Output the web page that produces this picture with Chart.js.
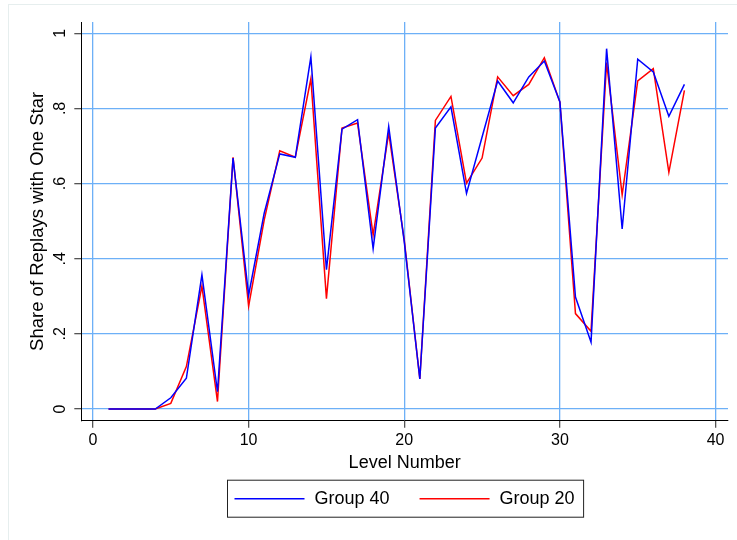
<!DOCTYPE html>
<html>
<head>
<meta charset="utf-8">
<script src="https://cdn.jsdelivr.net/npm/chart.js@4/dist/chart.umd.min.js"></script>
<style>
  html, body { margin: 0; padding: 0; background: #fff; }
  #wrap { position: relative; width: 737px; height: 540px; }
  #frame { position: absolute; left: 8px; top: 4px; right: -2px; bottom: -2px; border: 1px solid #e6eeee; }
  canvas { position: absolute; left: 0; top: 0; }
</style>
</head>
<body>
<div id="wrap">
  <div id="frame"></div>
  <canvas id="myChart" width="737" height="540"></canvas>
</div>
<script>
const levels = Array.from({ length: 38 }, (_, i) => i + 1);
const group40 = [0, 0, 0, 0, 0.030, 0.082, 0.357, 0.046, 0.668, 0.303,
  0.521, 0.679, 0.670, 0.937, 0.371, 0.745, 0.770, 0.427, 0.752, 0.445,
  0.080, 0.748, 0.804, 0.574, 0.724, 0.873, 0.815, 0.884, 0.926, 0.817,
  0.298, 0.178, 0.959, 0.479, 0.931, 0.897, 0.779, 0.864];
const group20 = [0, 0, 0, 0, 0.015, 0.113, 0.327, 0.020, 0.670, 0.274,
  0.503, 0.687, 0.670, 0.879, 0.294, 0.748, 0.761, 0.463, 0.735, 0.450,
  0.080, 0.768, 0.832, 0.601, 0.668, 0.884, 0.834, 0.864, 0.935, 0.817,
  0.254, 0.207, 0.922, 0.570, 0.873, 0.906, 0.630, 0.848];
const xTicks = [0, 10, 20, 30, 40];
const yTicks = [0, 0.2, 0.4, 0.6, 0.8, 1];
const yTickLabels = ['0', '.2', '.4', '.6', '.8', '1'];

const FONT = '"Liberation Sans", Arial, Helvetica, sans-serif';
const gridBlue = '#6db0f7';

// stata-style boxed legend under the x title
const boxLegend = {
  id: 'boxLegend',
  afterDraw(chart) {
    const ctx = chart.ctx;
    const area = chart.chartArea;
    const lineLen = 70, gapText = 10, gapItem = 30, padL = 7, padR = 9;
    ctx.save();
    ctx.font = '18px ' + FONT;
    const items = chart.data.datasets.map(ds => ({
      text: ds.label, color: ds.borderColor, w: ctx.measureText(ds.label).width
    }));
    let total = padL + padR;
    items.forEach((it, i) => { total += lineLen + gapText + it.w + (i ? gapItem : 0); });
    const cx = (area.left + area.right) / 2;
    const left = Math.round(cx - total / 2) + 0.5;
    const top = area.bottom + 59.5, h = 37;
    ctx.strokeStyle = '#222';
    ctx.lineWidth = 1;
    ctx.strokeRect(left, top, total, h);
    let x = left + padL;
    const cy = top + h / 2;
    items.forEach((it, i) => {
      if (i) x += gapItem;
      ctx.strokeStyle = it.color;
      ctx.lineWidth = 1.5;
      ctx.beginPath();
      ctx.moveTo(x, cy);
      ctx.lineTo(x + lineLen, cy);
      ctx.stroke();
      x += lineLen + gapText;
      ctx.fillStyle = '#000';
      ctx.textBaseline = 'middle';
      ctx.textAlign = 'left';
      ctx.fillText(it.text, x, cy);
      x += it.w;
    });
    ctx.restore();
  }
};

new Chart('myChart', {
  type: 'line',
  data: {
    datasets: [{
      label: 'Group 40',
      data: levels.map((lv, i) => ({ x: lv, y: group40[i] })),
      borderColor: '#0000ff',
      borderWidth: 1.5,
      pointRadius: 0,
      tension: 0,
      fill: false
    }, {
      label: 'Group 20',
      data: levels.map((lv, i) => ({ x: lv, y: group20[i] })),
      borderColor: '#ff0000',
      borderWidth: 1.5,
      pointRadius: 0,
      tension: 0,
      fill: false
    }]
  },
  plugins: [boxLegend],
  options: {
    responsive: false,
    animation: false,
    events: [],
    layout: { padding: { left: 0, right: 9, top: 22, bottom: 59.3 } },
    plugins: {
      legend: { display: false },
      tooltip: { enabled: false }
    },
    scales: {
      x: {
        type: 'linear',
        min: -0.75,
        max: 40.8,
        afterBuildTicks: scale => { scale.ticks = xTicks.map(v => ({ value: v })); },
        afterFit: scale => { scale.height = 60; },
        border: { color: '#000', width: 1 },
        grid: { color: gridBlue, lineWidth: 1.3, tickColor: '#555', tickLength: 7 },
        ticks: { color: '#000', font: { family: FONT, size: 16 }, padding: 3, maxRotation: 0 },
        title: {
          display: true,
          text: 'Level Number',
          color: '#000',
          font: { family: FONT, size: 18 },
          padding: { top: 0, bottom: 6.5 }
        }
      },
      y: {
        type: 'linear',
        min: -0.031,
        max: 1.030,
        afterBuildTicks: scale => { scale.ticks = yTicks.map(v => ({ value: v })); },
        afterFit: scale => { scale.width = 81.3; },
        border: { color: '#000', width: 1 },
        grid: { color: gridBlue, lineWidth: 1.3, tickColor: '#555', tickLength: 7 },
        ticks: {
          color: '#000',
          font: { family: FONT, size: 16 },
          padding: 7,
          minRotation: 90,
          maxRotation: 90,
          crossAlign: 'center',
          callback: (value) => yTickLabels[yTicks.indexOf(value)]
        },
        title: {
          display: true,
          text: 'Share of Replays with One Star',
          color: '#000',
          font: { family: FONT, size: 18.5 },
          padding: { top: 27, bottom: 0 }
        }
      }
    }
  }
});
</script>
</body>
</html>
